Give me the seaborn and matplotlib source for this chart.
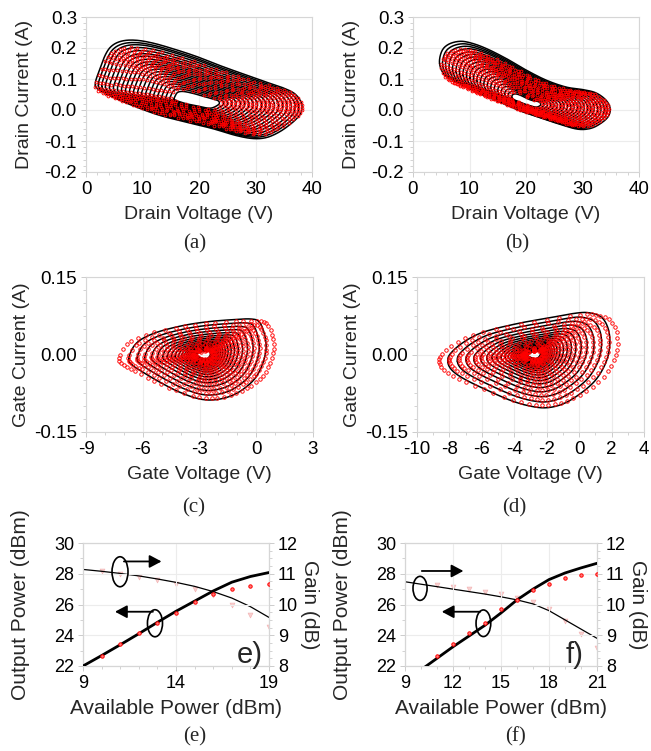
import numpy as np
import matplotlib
matplotlib.use("Agg")
import matplotlib.pyplot as plt
from matplotlib.patches import Ellipse
from matplotlib.ticker import MultipleLocator, FixedLocator, FormatStrFormatter
import seaborn as sns

sns.set_theme(style="whitegrid")
plt.rcParams["font.family"] = ["Liberation Sans", "DejaVu Sans"]
plt.rcParams["axes.unicode_minus"] = False

# ── (a) drain load-line, outer simulated loop
A_V = [1.65, 2.36, 3.54, 4.72, 6.5, 8.85, 11.8, 15.3, 19.5, 23.6, 27.7, 31.9, 34.8, 36.9,
       38.05, 38.2, 37.8, 36.3, 34.2, 31.9, 29.5, 26.5, 22.4, 17.7, 13.0, 8.85, 5.3, 2.95]
A_I = [0.080, 0.128, 0.182, 0.209, 0.223, 0.225, 0.216, 0.198, 0.173, 0.144, 0.117, 0.090, 0.072, 0.053,
       0.026, 0.004, -0.017, -0.044, -0.071, -0.089, -0.092, -0.082, -0.060, -0.039, -0.017, 0.010, 0.037, 0.058]
A_CENTER = (19.5, 0.026)
A_SIM_V = [0.22, 0.26, 0.30, 0.34, 0.38, 0.42, 0.46, 0.50, 0.54, 0.58, 0.62, 0.66, 0.70, 0.74, 0.78,
           0.82, 0.86, 0.90, 0.935, 0.97, 1.0]
A_SIM_I = [0.17, 0.21, 0.25, 0.29, 0.33, 0.37, 0.41, 0.45, 0.49, 0.53, 0.57, 0.61, 0.65, 0.69, 0.74,
           0.78, 0.83, 0.88, 0.925, 0.96, 1.0]
A_MEAS_V = [0.25, 0.29, 0.33, 0.37, 0.41, 0.45, 0.49, 0.53, 0.57, 0.61, 0.65, 0.69, 0.73, 0.77,
            0.81, 0.85, 0.89, 0.93, 0.965, 1.0]
A_MEAS_I = [0.21, 0.25, 0.29, 0.33, 0.37, 0.41, 0.45, 0.49, 0.53, 0.56, 0.59, 0.62, 0.65, 0.68,
            0.71, 0.74, 0.77, 0.80, 0.84, 0.88]

# ── (b) drain load-line
B_V = [4.7, 5.1, 6.3, 8.26, 10.3, 13.0, 16.5, 20.1, 23.6, 27.1, 30.1, 32.4, 34.2, 34.9,
       34.5, 33.0, 31.3, 29.2, 26.5, 23.0, 19.5, 15.3, 11.2, 7.7, 5.6]
B_I = [0.150, 0.190, 0.212, 0.2215, 0.216, 0.198, 0.166, 0.128, 0.096, 0.074, 0.0656, 0.055, 0.031, 0.004,
       -0.0226, -0.046, -0.060, -0.062, -0.049, -0.028, -0.0065, 0.026, 0.058, 0.090, 0.113]
B_CENTER = (20.1, 0.022)
B_SIM_V = [0.17, 0.21, 0.25, 0.29, 0.33, 0.37, 0.41, 0.45, 0.49, 0.53, 0.57, 0.61, 0.65, 0.69, 0.73,
           0.77, 0.81, 0.85, 0.89, 0.93, 0.965, 1.0]
B_SIM_I = [0.15, 0.19, 0.23, 0.27, 0.31, 0.35, 0.39, 0.43, 0.47, 0.51, 0.55, 0.59, 0.63, 0.67, 0.71,
           0.75, 0.79, 0.83, 0.88, 0.92, 0.96, 1.0]
B_MEAS_V = [0.20, 0.24, 0.28, 0.32, 0.36, 0.40, 0.44, 0.48, 0.52, 0.56, 0.60, 0.64, 0.68, 0.72,
            0.76, 0.80, 0.84, 0.88, 0.92, 0.95, 0.98]
B_MEAS_I = [0.19, 0.23, 0.27, 0.31, 0.34, 0.38, 0.42, 0.46, 0.49, 0.52, 0.55, 0.58, 0.61, 0.64,
            0.68, 0.72, 0.75, 0.78, 0.81, 0.845, 0.88]

# ── (c) gate loop
C_V = [-6.74, -6.36, -5.48, -4.07, -2.66, -1.25, -0.28, 0.16, 0.43, 0.52,
       0.34, -0.01, -0.54, -1.25, -2.13, -3.0, -4.07, -5.12, -6.0, -6.53]
C_I = [-0.008, 0.021, 0.040, 0.0545, 0.063, 0.0674, 0.0687, 0.063, 0.040, 0.0113,
       -0.0177, -0.0435, -0.063, -0.079, -0.0874, -0.086, -0.0726, -0.053, -0.034, -0.021]
C_CENTER = (-2.75, 0.0)
C_SIM = [0.10, 0.115, 0.13, 0.145, 0.165, 0.185, 0.21, 0.235, 0.265, 0.30, 0.34, 0.385, 0.435,
         0.49, 0.55, 0.62, 0.70, 0.79, 0.89, 1.0]
C_MEAS = [0.12, 0.135, 0.155, 0.175, 0.20, 0.225, 0.25, 0.28, 0.32, 0.36, 0.41, 0.46,
          0.52, 0.59, 0.66, 0.75, 0.84, 0.945, 1.06]
C_MEAS_STRETCH = (1.065, 0.90)

# ── (d) gate loop
D_V = [-8.1, -7.94, -7.12, -5.89, -3.83, -1.78, -0.13, 0.69, 1.41, 1.82, 1.88,
       1.62, 1.0, 0.07, -0.95, -1.98, -3.0, -4.24, -5.89, -7.12, -7.84]
D_I = [-0.0145, 0.0016, 0.024, 0.0435, 0.0597, 0.0713, 0.0803, 0.0803, 0.0713, 0.0468, 0.0145,
       -0.0177, -0.050, -0.0758, -0.095, -0.103, -0.100, -0.0887, -0.066, -0.0468, -0.0306]
D_CENTER = (-2.76, 0.0)
D_SIM = [0.08, 0.09, 0.10, 0.115, 0.13, 0.145, 0.165, 0.185, 0.21, 0.235, 0.265, 0.30, 0.34,
         0.385, 0.435, 0.49, 0.55, 0.62, 0.70, 0.79, 0.89, 1.0]
D_MEAS = [0.10, 0.112, 0.125, 0.14, 0.155, 0.175, 0.20, 0.222, 0.25, 0.28, 0.32, 0.36,
          0.41, 0.46, 0.52, 0.59, 0.66, 0.75, 0.84, 0.945, 1.06]
D_MEAS_STRETCH = (1.04, 0.90)

# ── (e) power sweep
E_PIN = [9, 10, 11, 12, 13, 14, 15, 16, 17, 18, 19]
E_POUT_SIM = [22.0, 22.68, 23.38, 24.1, 24.84, 25.56, 26.22, 26.88, 27.45, 27.82, 28.08]
E_GAIN_SIM = [11.14, 11.08, 11.01, 10.93, 10.83, 10.72, 10.59, 10.42, 10.21, 9.93, 9.58]
E_PIN_MEAS = [10, 11, 12, 13, 14, 15, 16, 17, 18, 19]
E_POUT_MEAS = [22.65, 23.45, 24.12, 24.82, 25.47, 26.14, 26.68, 26.98, 27.2, 27.35]
E_GAIN_MEAS = [11.08, 11.0, 10.9, 10.8, 10.68, 10.52, 10.32, 10.0, 9.66, 9.28]
E_XTICKS = [9, 14, 19]
E_ELLIPSES = [(10.99, 28.13, 0.86, 1.95), (12.87, 24.78, 0.81, 1.76)]
E_ARROWS = [((11.2, 28.8), (13.22, 28.8)), ((12.76, 25.53), (10.72, 25.53))]

# ── (f) power sweep
F_PIN = [10, 11, 12, 13, 14, 15, 16, 17, 18, 19, 20, 21]
F_POUT_SIM = [21.75, 22.5, 23.25, 23.95, 24.65, 25.45, 26.3, 27.0, 27.62, 28.05, 28.38, 28.68]
F_PIN_GAIN = [9, 10, 11, 12, 13, 14, 15, 16, 17, 18, 19, 20, 21]
F_GAIN_SIM = [10.74, 10.66, 10.58, 10.50, 10.42, 10.34, 10.25, 10.15, 10.02, 9.8, 9.5, 9.2, 8.9]
F_PIN_MEAS = [11, 12, 13, 14, 15, 16, 17, 18, 19, 20, 21]
F_POUT_MEAS = [22.65, 23.45, 24.15, 24.82, 25.68, 26.31, 26.92, 27.35, 27.72, 27.93, 27.98]
F_GAIN_MEAS = [10.62, 10.56, 10.5, 10.42, 10.33, 10.22, 10.08, 9.85, 9.45, 9.05, 8.57]
F_XTICKS = [9, 12, 15, 18, 21]
F_ELLIPSES = [(9.94, 27.05, 0.88, 1.56), (13.9, 24.78, 0.92, 1.73)]
F_ARROWS = [((10.05, 28.18), (12.65, 28.18)), ((13.7, 25.53), (11.3, 25.53))]

W, H = 651, 751
fig = plt.figure(figsize=(W / 100, H / 100), dpi=100)
fig.patch.set_facecolor("white")

SPINE = "#d6d6d6"
GRID = "#ececec"
TICK_FS = 13.5
LABEL_FS = 14


def axes_px(l, t, r, b):
    return fig.add_axes([l / W, 1 - b / H, (r - l) / W, (b - t) / H])


def style(ax, xlim, ylim, xmaj, xmin, ymaj, ymin, xfmt="%d", yfmt="%.1f", fs=TICK_FS):
    ax.set_facecolor("white")
    ax.set_xlim(*xlim)
    ax.set_ylim(*ylim)
    if isinstance(xmaj, list):
        ax.xaxis.set_major_locator(FixedLocator(xmaj))
    else:
        ax.xaxis.set_major_locator(MultipleLocator(xmaj))
    ax.xaxis.set_minor_locator(MultipleLocator(xmin))
    ax.yaxis.set_major_locator(MultipleLocator(ymaj))
    ax.yaxis.set_minor_locator(MultipleLocator(ymin))
    ax.xaxis.set_major_formatter(FormatStrFormatter(xfmt))
    ax.yaxis.set_major_formatter(FormatStrFormatter(yfmt))
    ax.grid(True, which="major", color=GRID, lw=0.8)
    ax.grid(False, which="minor")
    for s in ax.spines.values():
        s.set_visible(True)
        s.set_color(SPINE)
        s.set_linewidth(0.8)
    ax.tick_params(which="both", bottom=True, left=True, direction="out",
                   color="#cccccc", labelsize=fs, labelcolor="black", pad=3)
    ax.tick_params(which="major", length=3.5, width=0.7)
    ax.tick_params(which="minor", length=2.5, width=0.6)


def closed_curve(xs, ys, n=14):
    # closed Catmull-Rom through the traced contour points
    P = np.column_stack([xs, ys])
    N = len(P)
    t = np.linspace(0, 1, n, endpoint=False)[:, None]
    segs = []
    for i in range(N):
        p0, p1, p2, p3 = P[i - 1], P[i], P[(i + 1) % N], P[(i + 2) % N]
        segs.append(0.5 * (2 * p1 + (-p0 + p2) * t + (2 * p0 - 5 * p1 + 4 * p2 - p3) * t ** 2
                           + (-p0 + 3 * p1 - 3 * p2 + p3) * t ** 3))
    segs.append(P[:1])
    return np.vstack(segs)


def draw_loops(ax, V, I, center, sim_v, sim_i, meas_v, meas_i, n_meas, ms):
    cv, ci = center
    base = closed_curve(V, I)
    dv, di = base[:, 0] - cv, base[:, 1] - ci
    for sv, si in zip(sim_v, sim_i):
        ax.plot(cv + sv * dv, ci + si * di, color="black", lw=1.1, zorder=2)
    for sv, si in zip(meas_v, meas_i):
        n = max(14, int(round(n_meas * min(sv, 1.0))))
        idx = np.linspace(0, len(base) - 1, n, endpoint=False).astype(int)
        ax.plot(cv + sv * dv[idx], ci + si * di[idx], ls="none", marker="o", ms=ms,
                mfc="none", mec="#ff0000", mew=0.65, zorder=3)


def caption(x, y, s):
    fig.text(x / W, 1 - y / H, s, ha="center", va="center",
             family=["Liberation Serif", "DejaVu Serif"], fontsize=15)


# ═══ (a)
ax = axes_px(86, 17, 312, 172)
style(ax, (0, 40), (-0.2, 0.3), 10, 2, 0.1, 0.02)
draw_loops(ax, A_V, A_I, A_CENTER, A_SIM_V, A_SIM_I, A_MEAS_V, A_MEAS_I, 60, 2.0)
ax.set_xlabel("Drain Voltage (V)", fontsize=LABEL_FS, labelpad=6)
ax.set_ylabel("Drain Current (A)", fontsize=LABEL_FS, labelpad=8)
caption(195, 244, "(a)")

# ═══ (b)
ax = axes_px(413, 17, 639, 172)
style(ax, (0, 40), (-0.2, 0.3), 10, 2, 0.1, 0.02)
draw_loops(ax, B_V, B_I, B_CENTER, B_SIM_V, B_SIM_I, B_MEAS_V, B_MEAS_I, 60, 2.0)
ax.set_xlabel("Drain Voltage (V)", fontsize=LABEL_FS, labelpad=6)
ax.set_ylabel("Drain Current (A)", fontsize=LABEL_FS, labelpad=8)
caption(517, 244, "(b)")

# ═══ (c)
ax = axes_px(86, 277, 313, 432)
style(ax, (-9, 3), (-0.15, 0.15), 3, 1, 0.15, 0.025, yfmt="%.2f")
draw_loops(ax, C_V, C_I, C_CENTER, C_SIM, C_SIM,
           [s * C_MEAS_STRETCH[0] for s in C_MEAS], [s * C_MEAS_STRETCH[1] for s in C_MEAS], 60, 2.5)
ax.set_xlabel("Gate Voltage (V)", fontsize=LABEL_FS, labelpad=6)
ax.set_ylabel("Gate Current (A)", fontsize=LABEL_FS, labelpad=3)
caption(194, 508, "(c)")

# ═══ (d)
ax = axes_px(417, 277, 644, 432)
style(ax, (-10, 4), (-0.15, 0.15), 2, 1, 0.15, 0.025, yfmt="%.2f")
draw_loops(ax, D_V, D_I, D_CENTER, D_SIM, D_SIM,
           [s * D_MEAS_STRETCH[0] for s in D_MEAS], [s * D_MEAS_STRETCH[1] for s in D_MEAS], 60, 2.5)
ax.set_xlabel("Gate Voltage (V)", fontsize=LABEL_FS, labelpad=6)
ax.set_ylabel("Gate Current (A)", fontsize=LABEL_FS, labelpad=3)
caption(514, 508, "(d)")


# ═══ (e) / (f)
def power_panel(box, xlim, xticks, pin, pout, pin_g, gain, pin_m, pout_m, gain_m,
                ellipses, arrows, tag, tag_xy, cap_xy, cap):
    ax = axes_px(*box)
    style(ax, xlim, (22, 30), xticks, 1, 2, 1, yfmt="%d", fs=13)
    ax2 = ax.twinx()
    ax2.set_ylim(8, 12)
    ax2.yaxis.set_major_locator(MultipleLocator(1))
    ax2.yaxis.set_minor_locator(MultipleLocator(0.25))
    ax2.grid(False)
    for s in ax2.spines.values():
        s.set_color(SPINE)
        s.set_linewidth(0.8)
    ax2.tick_params(which="both", right=True, direction="out", color="#cccccc",
                    labelsize=13, labelcolor="black", pad=3)
    ax2.tick_params(which="major", length=3.5, width=0.7)
    ax2.tick_params(which="minor", length=2.5, width=0.6)

    sns.lineplot(x=pin, y=pout, ax=ax, color="black", lw=2.0, zorder=3)
    sns.scatterplot(x=pin_m, y=pout_m, ax=ax, marker="o", s=6, color="#ff7a7a",
                    edgecolor="#ff0000", linewidth=0.7, zorder=4)
    sns.lineplot(x=pin_g, y=gain, ax=ax2, color="black", lw=0.9, zorder=3)
    sns.scatterplot(x=pin_m, y=gain_m, ax=ax2, marker="v", s=12, color="#f8d0d0",
                    edgecolor="#f3b5b5", linewidth=0.5, zorder=2)

    for cx, cy, w, h in ellipses:
        ax.add_patch(Ellipse((cx, cy), w, h, fill=False, ec="black", lw=1.2, zorder=5))
    for start, end in arrows:
        ax.annotate("", xy=end, xytext=start, zorder=5,
                    arrowprops=dict(arrowstyle="-|>,head_length=0.6,head_width=0.32",
                                    mutation_scale=12, lw=1.3, color="black",
                                    shrinkA=0, shrinkB=0))
    ax.text(tag_xy[0], tag_xy[1], tag, fontsize=21, ha="left", va="baseline", zorder=6)

    ax.set_xlabel("Available Power (dBm)", fontsize=15, labelpad=5)
    ax.set_ylabel("Output Power (dBm)", fontsize=15, labelpad=17)
    ax2.set_ylabel("Gain (dB)", fontsize=15, rotation=270, labelpad=15)
    ax.set_zorder(ax2.get_zorder() + 1)
    ax.patch.set_visible(False)
    caption(cap_xy[0], cap_xy[1], cap)


power_panel((83, 543, 269, 666), (9, 19), E_XTICKS, E_PIN, E_POUT_SIM, E_PIN, E_GAIN_SIM,
            E_PIN_MEAS, E_POUT_MEAS, E_GAIN_MEAS, E_ELLIPSES, E_ARROWS,
            "e)", (17.28, 22.2), (195, 737), "(e)")
power_panel((405, 543, 597, 666), (9, 21), F_XTICKS, F_PIN, F_POUT_SIM, F_PIN_GAIN, F_GAIN_SIM,
            F_PIN_MEAS, F_POUT_MEAS, F_GAIN_MEAS, F_ELLIPSES, F_ARROWS,
            "f)", (19.02, 22.2), (516, 737), "(f)")

fig.savefig("out.png", dpi=100, facecolor="white")
